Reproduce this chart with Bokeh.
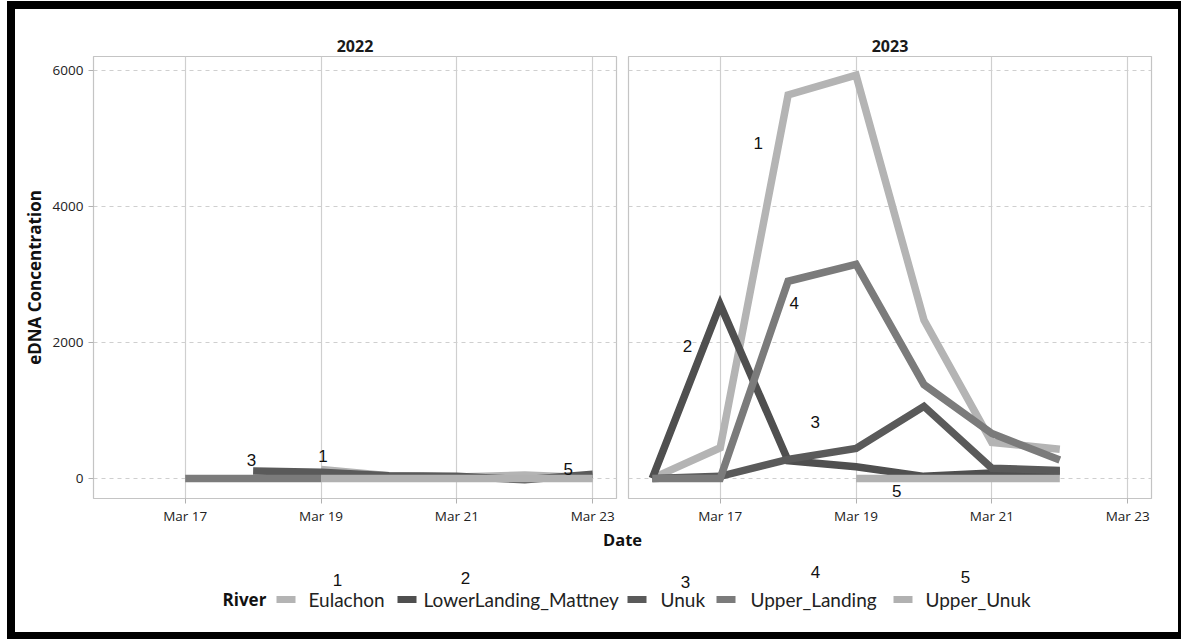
import numpy as np
import pandas as pd
from bokeh.plotting import figure
from bokeh.models import Range1d, FixedTicker, DatetimeTickFormatter
from bokeh.layouts import column, row
from bokeh.core.properties import value
from bokeh.embed import file_html
from bokeh.resources import INLINE

nan = np.nan

# ---------------- data ----------------
rivers = ["Eulachon", "LowerLanding_Mattney", "Unuk", "Upper_Landing", "Upper_Unuk"]
river_numbers = ["1", "2", "3", "4", "5"]
colors = ["#b4b4b4", "#4f4f4f", "#5a5a5a", "#7b7b7b", "#b1b1b1"]

dates_2022 = ["2022-03-17", "2022-03-18", "2022-03-19", "2022-03-20",
              "2022-03-21", "2022-03-22", "2022-03-23"]
eulachon_2022 = [nan, nan, 130, 40, 20, 50, 10]
lowerlanding_2022 = [nan, nan, nan, nan, nan, nan, nan]
unuk_2022 = [nan, 110, 90, 40, 30, -20, 60]
upper_landing_2022 = [0, 0, 0, nan, nan, nan, nan]
upper_unuk_2022 = [nan, nan, 0, 0, 0, 0, 0]

dates_2023 = ["2023-03-16", "2023-03-17", "2023-03-18", "2023-03-19",
              "2023-03-20", "2023-03-21", "2023-03-22"]
eulachon_2023 = [0, 450, 5640, 5930, 2330, 530, 430]
lowerlanding_2023 = [0, 2555, 260, 170, 30, 80, 100]
unuk_2023 = [0, 30, 280, 440, 1060, 150, 115]
upper_landing_2023 = [0, 0, 2900, 3150, 1380, 660, 270]
upper_unuk_2023 = [nan, nan, nan, 0, 0, 0, 0]

# number labels placed inside the panels
labels_2022_text = ["3", "1", "5"]
labels_2022_x = ["2022-03-17 23:24", "2022-03-19 00:43", "2022-03-22 15:22"]
labels_2022_y = [265, 324, 132]

labels_2023_text = ["1", "2", "3", "4", "5"]
labels_2023_x = ["2023-03-17 13:26", "2023-03-16 12:29", "2023-03-18 09:36",
                 "2023-03-18 02:10", "2023-03-19 14:24"]
labels_2023_y = [4940, 1940, 824, 2574, -185]

tick_days = ["03-17", "03-19", "03-21", "03-23"]
y_ticks = [0, 2000, 4000, 6000]

series = {
    "2022": (dates_2022, [eulachon_2022, lowerlanding_2022, unuk_2022,
                          upper_landing_2022, upper_unuk_2022],
             labels_2022_text, labels_2022_x, labels_2022_y),
    "2023": (dates_2023, [eulachon_2023, lowerlanding_2023, unuk_2023,
                          upper_landing_2023, upper_unuk_2023],
             labels_2023_text, labels_2023_x, labels_2023_y),
}

AX_FONT = "Open Sans"
GRID = "#cfcfcf"


def ms(ts):
    return pd.Timestamp(ts).value // 10**6


def make_panel(year, first):
    dates, vals, lt, lx, ly = series[year]
    x0 = pd.Timestamp(f"{year}-03-16") - pd.Timedelta(hours=0.35 * 24)
    x1 = pd.Timestamp(f"{year}-03-23") + pd.Timedelta(hours=0.35 * 24)
    p = figure(
        x_axis_type="datetime",
        x_range=Range1d(x0, x1),
        y_range=Range1d(-296, 6206),
        frame_width=523, frame_height=442,
        min_border_left=78 if first else 6,
        min_border_right=6 if first else 26,
        min_border_top=47, min_border_bottom=27,
        output_backend="svg", toolbar_location=None,
        background_fill_color="white", border_fill_color="white",
    )
    p.title.text = year
    p.title.align = "center"
    p.title.text_font = AX_FONT
    p.title.text_font_style = "bold"
    p.title.text_font_size = "16px"
    p.title.text_color = "#1a1a1a"
    p.title.standoff = 10

    p.outline_line_color = "#c4c4c4"
    p.outline_line_width = 1.2

    x = pd.to_datetime(dates)
    for v, c in zip(vals, colors):
        p.line(x=x, y=np.array(v, dtype=float), line_color=c, line_width=7.5,
               line_join="miter", line_cap="butt")

    p.text(x=pd.to_datetime(lx), y=ly, text=lt,
           text_font=value("Liberation Sans"), text_font_size="17px",
           text_align="center", text_baseline="middle", text_color="#111111")

    p.xaxis.ticker = FixedTicker(ticks=[ms(f"{year}-{d}") for d in tick_days])
    p.xaxis.formatter = DatetimeTickFormatter(days="%b %d", months="%b %d",
                                              hours="%b %d", years="%b %d")
    p.xaxis.axis_line_color = None
    p.xaxis.major_tick_line_color = "#b0b0b0"
    p.xaxis.major_tick_out = 5
    p.xaxis.major_tick_in = 0
    p.xaxis.minor_tick_line_color = None
    p.xaxis.major_label_text_font = AX_FONT
    p.xaxis.major_label_text_font_size = "13.5px"
    p.xaxis.major_label_text_color = "#222222"
    p.xaxis.major_label_standoff = 3

    p.yaxis.ticker = FixedTicker(ticks=y_ticks)
    p.yaxis.axis_line_color = None
    p.yaxis.major_tick_line_color = "#b0b0b0"
    p.yaxis.major_tick_out = 5
    p.yaxis.major_tick_in = 0
    p.yaxis.minor_tick_line_color = None
    p.yaxis.major_label_text_font = AX_FONT
    p.yaxis.major_label_text_font_size = "13.5px"
    p.yaxis.major_label_text_color = "#222222"
    p.yaxis.major_label_standoff = 5
    if first:
        p.yaxis.axis_label = "eDNA Concentration"
        p.yaxis.axis_label_text_font = AX_FONT
        p.yaxis.axis_label_text_font_style = "bold"
        p.yaxis.axis_label_text_font_size = "17px"
        p.yaxis.axis_label_text_color = "#111111"
        p.yaxis.axis_label_standoff = 4
    else:
        p.yaxis.visible = False

    p.xgrid.grid_line_color = GRID
    p.xgrid.grid_line_width = 1.2
    p.ygrid.grid_line_color = GRID
    p.ygrid.grid_line_dash = "4 4"
    p.ygrid.grid_line_width = 1
    return p


p1 = make_panel("2022", True)
p2 = make_panel("2023", False)

# ---------------- bottom strip: x-axis title + legend ----------------
leg = figure(width=1163, height=105, x_range=Range1d(15, 1178),
             y_range=Range1d(631, 526), min_border=0,
             x_axis_location=None, y_axis_location=None,
             output_backend="svg", toolbar_location=None,
             background_fill_color="white", border_fill_color="white")
leg.grid.visible = False
leg.outline_line_color = None

leg.text(x=[622], y=[538], text=["Date"], text_font=value(AX_FONT),
         text_font_style="bold", text_font_size="16.5px", text_align="center",
         text_baseline="middle", text_color="#111111")

leg.text(x=[222], y=[598], text=["River"], text_font=value(AX_FONT),
         text_font_style="bold", text_font_size="17px", text_align="left",
         text_baseline="middle", text_color="#111111")

key_x = [276, 397, 627, 716, 893]
label_x = [308, 423, 660, 750, 925]
num_x = [337, 465, 685, 815, 965]
num_y = [578, 576, 580, 570, 575]
leg.segment(x0=key_x, y0=[598] * 5, x1=[k + 19 for k in key_x], y1=[598] * 5,
            line_color=colors, line_width=7, line_cap="butt")
leg.text(x=label_x, y=[598] * 5, text=rivers, text_font=value("Lato"),
         text_font_size="19px", text_align="left", text_baseline="middle",
         text_color="#222222")
leg.text(x=num_x, y=num_y, text=river_numbers, text_font=value("Liberation Sans"),
         text_font_size="17px", text_align="center", text_baseline="middle",
         text_color="#111111")

layout = column(
    row(p1, p2),
    leg,
    styles={"border-style": "solid", "border-color": "black",
            "border-width": "8px 3px 7px 8px", "margin": "1px 0 0 7px"},
)

open("out.html", "w").write(file_html(layout, INLINE))
